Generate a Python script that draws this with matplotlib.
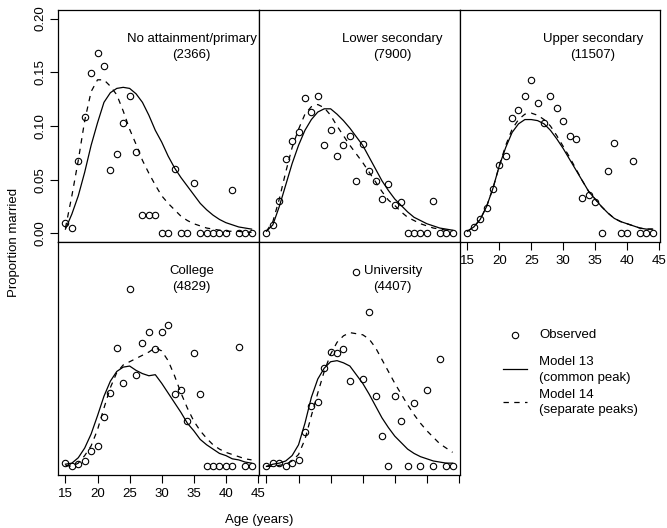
import numpy as np
import matplotlib
matplotlib.use("Agg")
import matplotlib.pyplot as plt

plt.rcParams['font.family'] = ['Liberation Sans', 'DejaVu Sans']
plt.rcParams['font.size'] = 9.5

ages = np.arange(15, 45)

groups = ['No attainment/primary', 'Lower secondary', 'Upper secondary', 'College', 'University']
counts = ['(2366)', '(7900)', '(11507)', '(4829)', '(4407)']

# observed proportions married, ages 15..44
obs_none = [0.010, 0.005, 0.067, 0.108, 0.149, 0.168, 0.156, 0.059, 0.074, 0.103,
            0.128, 0.076, 0.017, 0.017, 0.017, 0, 0, 0.060, 0, 0,
            0.047, 0, 0, 0, 0, 0, 0.040, 0, 0, 0]
obs_lower = [0, 0.008, 0.030, 0.069, 0.086, 0.094, 0.126, 0.113, 0.128, 0.082,
             0.096, 0.072, 0.082, 0.091, 0.049, 0.083, 0.058, 0.049, 0.032, 0.046,
             0.026, 0.029, 0, 0, 0, 0, 0.030, 0, 0, 0]
obs_upper = [0, 0.006, 0.013, 0.024, 0.041, 0.064, 0.072, 0.107, 0.115, 0.128,
             0.143, 0.121, 0.103, 0.128, 0.117, 0.105, 0.091, 0.088, 0.033, 0.036,
             0.029, 0, 0.058, 0.084, 0, 0, 0.067, 0, 0, 0]
obs_college = [0.003, 0.000, 0.002, 0.005, 0.014, 0.019, 0.046, 0.068, 0.110, 0.077,
               0.164, 0.085, 0.114, 0.125, 0.109, 0.125, 0.131, 0.067, 0.071, 0.042,
               0.105, 0.067, 0, 0, 0, 0, 0, 0.111, 0, 0]
obs_univ = [0, 0.003, 0.003, 0, 0.003, 0.006, 0.032, 0.056, 0.060, 0.091,
            0.106, 0.105, 0.109, 0.079, 0.180, 0.081, 0.143, 0.065, 0.028, 0,
            0.065, 0.042, 0, 0.059, 0, 0.071, 0, 0.100, 0, 0]

# Model 13 (common peak)
m13_none = [0.004, 0.018, 0.035, 0.057, 0.082, 0.103, 0.122, 0.131, 0.135, 0.136,
            0.135, 0.130, 0.122, 0.110, 0.096, 0.085, 0.072, 0.061, 0.052, 0.044,
            0.036, 0.028, 0.022, 0.017, 0.013, 0.010, 0.008, 0.006, 0.005, 0.004]
m13_lower = [0.002, 0.008, 0.025, 0.045, 0.065, 0.082, 0.096, 0.106, 0.113, 0.116,
             0.116, 0.111, 0.105, 0.098, 0.090, 0.082, 0.071, 0.060, 0.049, 0.040,
             0.032, 0.026, 0.020, 0.015, 0.012, 0.009, 0.007, 0.005, 0.004, 0.003]
m13_upper = [0.002, 0.006, 0.013, 0.025, 0.042, 0.063, 0.080, 0.094, 0.102, 0.106,
             0.106, 0.105, 0.102, 0.096, 0.088, 0.079, 0.069, 0.059, 0.049, 0.039,
             0.032, 0.025, 0.019, 0.014, 0.011, 0.009, 0.007, 0.005, 0.004, 0.004]
m13_college = [0.002, 0.003, 0.008, 0.017, 0.030, 0.047, 0.065, 0.079, 0.088, 0.092,
               0.093, 0.089, 0.086, 0.084, 0.085, 0.077, 0.068, 0.059, 0.050, 0.040,
               0.033, 0.025, 0.020, 0.016, 0.012, 0.010, 0.007, 0.006, 0.004, 0.003]
m13_univ = [0.000, 0.002, 0.003, 0.005, 0.010, 0.020, 0.040, 0.064, 0.081, 0.091,
            0.097, 0.098, 0.096, 0.093, 0.085, 0.077, 0.067, 0.056, 0.045, 0.036,
            0.028, 0.022, 0.016, 0.012, 0.009, 0.007, 0.005, 0.004, 0.003, 0.003]

# Model 14 (separate peaks)
m14_none = [0.005, 0.035, 0.068, 0.105, 0.132, 0.143, 0.143, 0.137, 0.129, 0.114,
            0.097, 0.083, 0.068, 0.056, 0.045, 0.035, 0.028, 0.022, 0.016, 0.012,
            0.009, 0.007, 0.005, 0.004, 0.003, 0.002, 0.002, 0.002, 0.001, 0.001]
m14_lower = [0.002, 0.011, 0.032, 0.057, 0.080, 0.097, 0.111, 0.118, 0.120, 0.117,
             0.110, 0.100, 0.091, 0.082, 0.074, 0.066, 0.057, 0.048, 0.039, 0.031,
             0.026, 0.020, 0.015, 0.012, 0.009, 0.007, 0.005, 0.004, 0.003, 0.002]
m14_upper = [0.002, 0.006, 0.013, 0.025, 0.042, 0.063, 0.082, 0.097, 0.106, 0.111,
             0.112, 0.110, 0.106, 0.100, 0.091, 0.081, 0.071, 0.060, 0.049, 0.039,
             0.032, 0.025, 0.019, 0.014, 0.011, 0.009, 0.007, 0.005, 0.004, 0.004]
m14_college = [0.001, 0.000, 0.003, 0.010, 0.019, 0.034, 0.054, 0.073, 0.087, 0.094,
               0.097, 0.100, 0.103, 0.106, 0.110, 0.107, 0.098, 0.084, 0.068, 0.054,
               0.042, 0.033, 0.026, 0.020, 0.016, 0.013, 0.011, 0.009, 0.007, 0.006]
m14_univ = [0.000, 0.000, 0.001, 0.002, 0.005, 0.011, 0.025, 0.047, 0.068, 0.088,
            0.104, 0.115, 0.121, 0.124, 0.123, 0.122, 0.118, 0.110, 0.099, 0.088,
            0.077, 0.067, 0.057, 0.048, 0.040, 0.033, 0.027, 0.021, 0.017, 0.013]

observed = [obs_none, obs_lower, obs_upper, obs_college, obs_univ]
model13 = [m13_none, m13_lower, m13_upper, m13_college, m13_univ]
model14 = [m14_none, m14_lower, m14_upper, m14_college, m14_univ]

W, H = 667, 528
fig = plt.figure(figsize=(W / 100, H / 100), dpi=100)

# panel boxes in pixels: left, top, right, bottom
boxes = [(58, 10, 259, 242), (259, 10, 460, 242), (460, 10, 660, 242),
         (58, 242, 259, 475), (259, 242, 460, 475)]

dash = (0, (4.3, 4.3))
for i, (l, t, r, b) in enumerate(boxes):
    ax = fig.add_axes([l / W, 1 - b / H, (r - l) / W, (b - t) / H])
    ax.plot(ages, model13[i], color='black', lw=0.9)
    ax.plot(ages, model14[i], color='black', lw=0.9, linestyle=dash)
    ax.plot(ages, observed[i], linestyle='none', marker='o', ms=4.6,
            mfc='none', mec='black', mew=0.8, clip_on=False)
    ax.set_xlim(13.84, 45.16)
    ax.set_ylim(-0.008, 0.208)
    ax.set_xticks([15, 20, 25, 30, 35, 40, 45])
    ax.tick_params(axis='x', direction='out', length=5.5, width=0.8, pad=4)
    if i in (2, 3):
        ax.set_xticklabels(['15', '20', '25', '30', '35', '40', '45'])
    else:
        ax.set_xticklabels([])
    if i == 0:
        ax.set_yticks([0.0, 0.05, 0.10, 0.15, 0.20])
        ax.set_yticklabels(['0.00', '0.05', '0.10', '0.15', '0.20'],
                           rotation=90, va='center')
        ax.tick_params(axis='y', direction='out', length=5.5, width=0.8, pad=3)
    else:
        ax.set_yticks([])
    for s in ax.spines.values():
        s.set_linewidth(0.9)
    ax.text(0.665, 0.875, groups[i], transform=ax.transAxes, ha='center', va='center')
    ax.text(0.665, 0.806, counts[i], transform=ax.transAxes, ha='center', va='center')

# legend in the empty sixth panel
lg = fig.add_axes([460 / W, 1 - 475 / H, 200 / W, 233 / H])
lg.set_xlim(0, 1)
lg.set_ylim(0, 1)
lg.axis('off')
lg.plot([0.275], [0.601], linestyle='none', marker='o', ms=4.6, mfc='none',
        mec='black', mew=0.8)
lg.plot([0.215, 0.335], [0.455, 0.455], color='black', lw=0.9)
lg.plot([0.215, 0.335], [0.313, 0.313], color='black', lw=0.9, linestyle=dash)
lg.text(0.395, 0.601, 'Observed', va='center')
lg.text(0.395, 0.485, 'Model 13', va='center')
lg.text(0.395, 0.416, '(common peak)', va='center')
lg.text(0.395, 0.343, 'Model 14', va='center')
lg.text(0.395, 0.279, '(separate peaks)', va='center')

fig.text(259 / W, 1 - 520 / H, 'Age (years)', ha='center', va='center')
fig.text(14 / W, 1 - 242 / H, 'Proportion married', ha='center', va='center',
         rotation=90)

fig.savefig('out.png', dpi=100)
